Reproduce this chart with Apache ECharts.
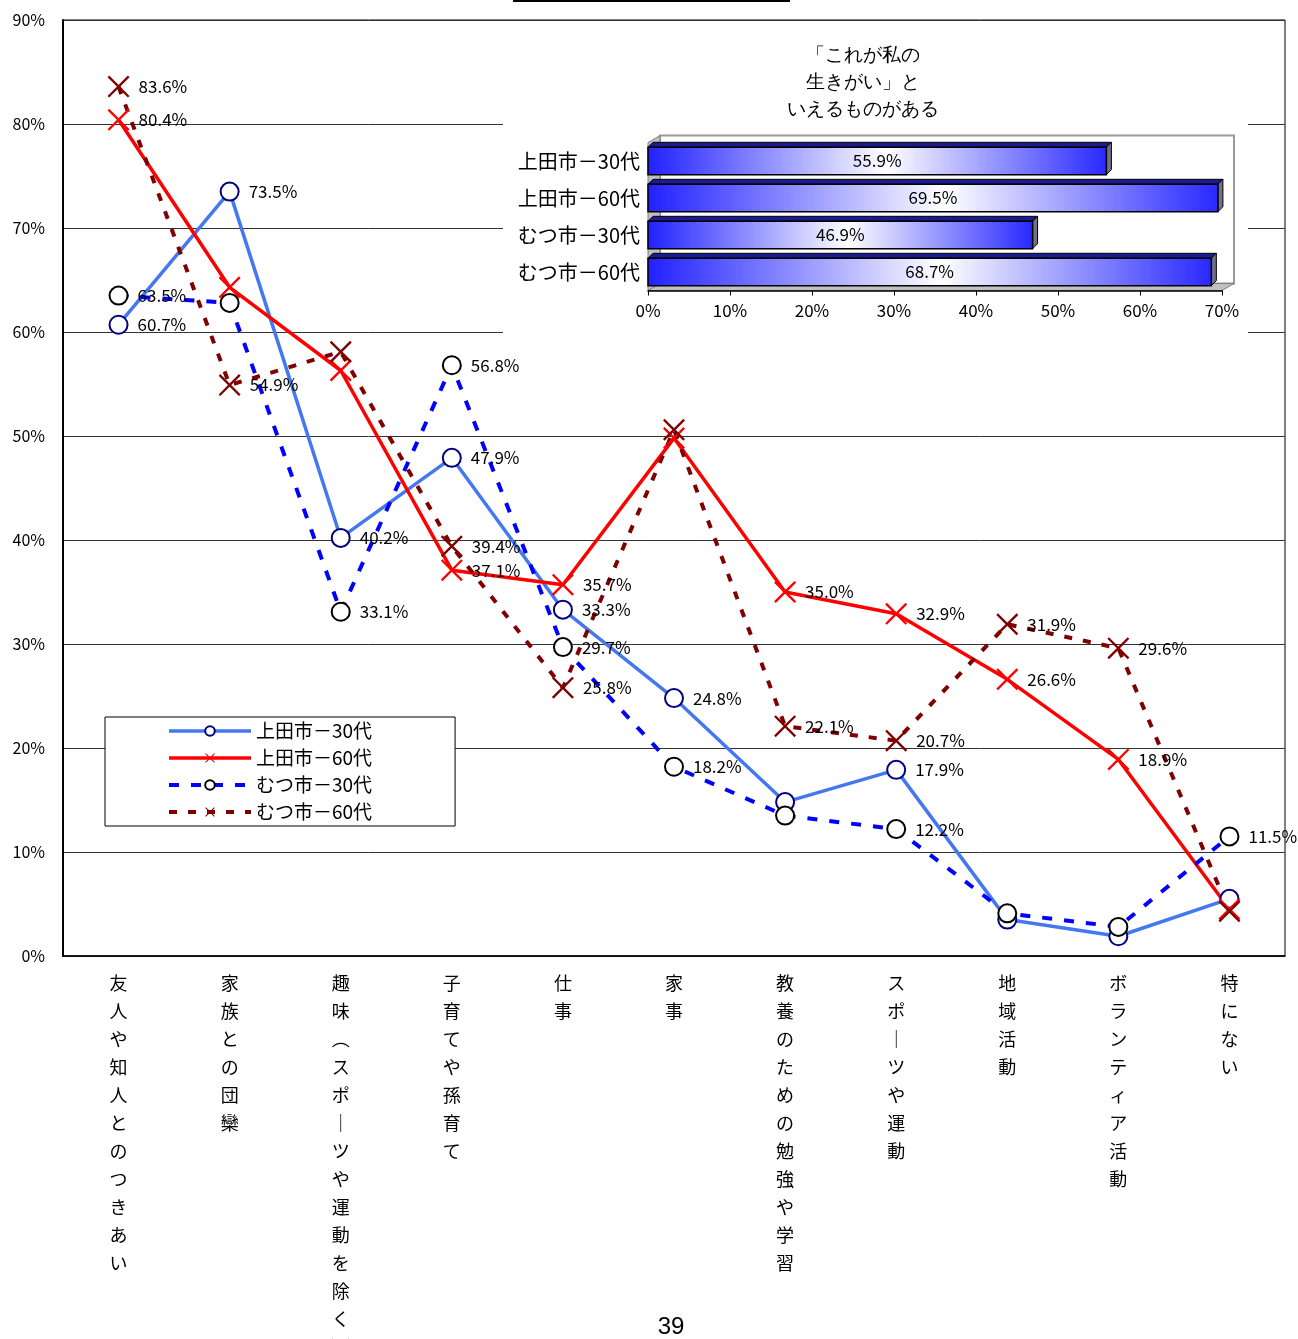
<!DOCTYPE html>
<html><head><meta charset="utf-8">
<script src="https://cdn.jsdelivr.net/npm/echarts@6/dist/echarts.min.js"></script>
<style>html,body{margin:0;padding:0;background:#fff}#c{width:1298px;height:1339px}</style>
</head><body><div id="c"></div>
<script>
const FONT = "'Noto Sans CJK JP', 'Noto Sans', sans-serif";
const categories = ['友人や知人とのつきあい','家族との団欒','趣味（スポーツや運動を除く）','子育てや孫育て','仕事','家事','教養のための勉強や学習','スポーツや運動','地域活動','ボランティア活動','特にない'];
const seriesNames = ['上田市－30代','上田市－60代','むつ市－30代','むつ市－60代'];
const ueda30 = [60.7,73.5,40.2,47.9,33.3,24.8,14.8,17.9,3.5,1.9,5.5];
const ueda60 = [80.4,64.3,56.3,37.1,35.7,49.8,35.0,32.9,26.6,18.9,4.5];
const mutsu30 = [63.5,62.8,33.1,56.8,29.7,18.2,13.5,12.2,4.1,2.8,11.5];
const mutsu60 = [83.6,54.9,58.1,39.4,25.8,50.6,22.1,20.7,31.9,29.6,4.3];
const ueda30Labels = [1,1,1,1,1,1,0,1,0,0,0];
const ueda60Labels = [1,0,0,1,1,0,1,1,1,1,0];
const mutsu30Labels = [1,0,1,1,1,1,0,1,0,0,1];
const mutsu60Labels = [1,1,0,1,1,0,1,1,1,1,0];
const yTicks = {min:0, max:90, interval:10};
const insetTitle = '「これが私の\n生きがい」と\nいえるものがある';
const insetCats = ['上田市－30代','上田市－60代','むつ市－30代','むつ市－60代'];
const insetValues = [55.9,69.5,46.9,68.7];
const insetTicks = {min:0, max:70, interval:10};

const X_PATH = 'path://M0,1.5 L1.5,0 L20,18.5 L18.5,20 Z M18.5,0 L20,1.5 L1.5,20 L0,18.5 Z';

function mk(vals, flags){
  return vals.map((v,i)=>({value:v, label:{show: !!flags[i]}}));
}
const lbl = {position:'right', distance:9, fontSize:17, color:'#000', fontFamily:FONT,
  formatter: p => p.value.toFixed(1)+'%'};

const chart = echarts.init(document.getElementById('c'), null, {renderer:'canvas'});
const G1 = {left:648, top:142.5, width:574, height:148};
const D = {x:12, y:7};
chart.setOption({
  animation:false,
  textStyle:{fontFamily:FONT},
  grid:[
    {left:63, top:20, right:13, bottom:383, show:true, borderColor:'#000', borderWidth:1, containLabel:false, outerBoundsMode:'none'},
    {left:G1.left, top:G1.top, width:G1.width, height:G1.height, containLabel:false, outerBoundsMode:'none'}
  ],
  legend:{
    data:seriesNames, orient:'vertical', left:105, top:717,
    itemWidth:82, itemHeight:12, itemGap:7,
    padding:[4,83,4,62], backgroundColor:'#fff', borderColor:'#000', borderWidth:1,
    lineStyle:{width:'inherit'},
    textStyle:{fontSize:19, color:'#000', fontFamily:FONT, lineHeight:20}
  },
  xAxis:[
    {type:'category', data:categories, gridIndex:0, boundaryGap:true,
     axisLine:{lineStyle:{color:'#000', width:1.5}},
     axisTick:{inside:true, length:6, lineStyle:{color:'#000'}},
     axisLabel:{interval:0, margin:13, fontSize:18, color:'#000', lineHeight:28, verticalAlign:'top',
       formatter: s => s.replace(/（/g,'︵').replace(/）/g,'︶').replace(/ー/g,'｜').split('').join('\n')}},
    {type:'value', gridIndex:1, min:insetTicks.min, max:insetTicks.max, interval:insetTicks.interval, z:3,
     axisLine:{show:true, lineStyle:{color:'#000', width:1.5}},
     axisTick:{show:true, length:5, lineStyle:{color:'#000'}},
     splitLine:{show:false},
     axisLabel:{formatter:'{value}%', fontSize:17, color:'#000', margin:12}}
  ],
  yAxis:[
    {type:'value', gridIndex:0, min:yTicks.min, max:yTicks.max, interval:yTicks.interval,
     axisLine:{show:true, lineStyle:{color:'#000', width:2}},
     axisTick:{show:false},
     splitLine:{lineStyle:{color:'#333', width:1}},
     axisLabel:{formatter:'{value}%', fontSize:16, color:'#000', margin:18}},
    {type:'category', gridIndex:1, data:insetCats, inverse:true, z:3,
     axisLine:{show:false}, axisTick:{show:false},
     axisLabel:{fontSize:20, color:'#000', margin:8}}
  ],
  graphic:[
    {type:'line', shape:{x1:513, y1:1, x2:790, y2:1}, style:{stroke:'#000', lineWidth:2}, z:1},
    {type:'rect', shape:{x:503, y:21.5, width:745, height:316}, style:{fill:'#fff'}, z:1},
    {type:'rect', shape:{x:G1.left+D.x, y:G1.top-D.y, width:G1.width, height:G1.height},
      style:{fill:'#fff', stroke:'#999', lineWidth:2}, z:1},
    {type:'polygon', shape:{points:[[G1.left,G1.top],[G1.left+D.x,G1.top-D.y],[G1.left+D.x,G1.top+G1.height-D.y],[G1.left,G1.top+G1.height]]},
      style:{fill:'#c0c0c0', stroke:'#808080', lineWidth:1}, z:1},
    {type:'polygon', shape:{points:[[G1.left,G1.top+G1.height],[G1.left+D.x,G1.top+G1.height-D.y],[G1.left+G1.width+D.x,G1.top+G1.height-D.y],[G1.left+G1.width,G1.top+G1.height]]},
      style:{fill:'#c0c0c0', stroke:'#808080', lineWidth:1}, z:1},
    {type:'text', x:863, y:42, style:{text:insetTitle, fontSize:19, lineHeight:27, align:'center', fill:'#000', font:'19px '+FONT}, z:5},
    {type:'text', x:671, y:1327, style:{text:'39', fontSize:24, align:'center', verticalAlign:'middle', fill:'#000', font:"24px 'Liberation Serif', 'DejaVu Serif', serif"}, z:5}
  ],
  series:[
    {name:seriesNames[0], type:'line', data:mk(ueda30, ueda30Labels), symbol:'circle', symbolSize:18,
     lineStyle:{color:'#4477F2', width:3.5}, itemStyle:{color:'#fff', borderColor:'#000080', borderWidth:2},
     label:lbl, z:3},
    {name:seriesNames[1], type:'line', data:mk(ueda60, ueda60Labels), symbol:X_PATH, symbolSize:22,
     lineStyle:{color:'#FF0000', width:3.5}, itemStyle:{color:'#FF0000'}, label:lbl, z:3},
    {name:seriesNames[2], type:'line', data:mk(mutsu30, mutsu30Labels), symbol:'circle', symbolSize:18,
     lineStyle:{color:'#0000FF', width:4, type:[10,12]}, itemStyle:{color:'#fff', borderColor:'#000', borderWidth:2},
     label:lbl, z:3},
    {name:seriesNames[3], type:'line', data:mk(mutsu60, mutsu60Labels), symbol:X_PATH, symbolSize:22,
     lineStyle:{color:'#800000', width:4, type:[8,11]}, itemStyle:{color:'#800000'}, label:lbl, z:3},
    {name:'inset', type:'custom', xAxisIndex:1, yAxisIndex:1, z:4,
     data: insetValues.map((v,i)=>[v,i]), encode:{x:0, y:1},
     renderItem: function(params, api){
       const v = api.value(0), i = api.value(1);
       const p0 = api.coord([0,i]), p1 = api.coord([v,i]);
       const band = api.size([0,1])[1], h = band*0.74, d = 5;
       const x0 = p0[0], x1 = p1[0], yc = p0[1], y0 = yc-h/2, y1 = yc+h/2;
       return {type:'group', children:[
         {type:'polygon', shape:{points:[[x0,y0],[x0+d,y0-d],[x1+d,y0-d],[x1,y0]]}, style:{fill:'#1c1c90', stroke:'#000', lineWidth:1}},
         {type:'polygon', shape:{points:[[x1,y0],[x1+d,y0-d],[x1+d,y1-d],[x1,y1]]}, style:{fill:'#70708a', stroke:'#000', lineWidth:1}},
         {type:'rect', shape:{x:x0, y:y0, width:x1-x0, height:h},
          style:{fill:new echarts.graphic.LinearGradient(0,0,1,0,[{offset:0,color:'#2020FF'},{offset:0.52,color:'#FFFFFF'},{offset:1,color:'#2828FF'}]), stroke:'#000', lineWidth:1.5}},
         {type:'text', style:{text:v.toFixed(1)+'%', x:(x0+x1)/2, y:yc, align:'center', verticalAlign:'middle', fill:'#000', font:'17px '+FONT}}
       ]};
     }}
  ]
});
</script></body></html>
